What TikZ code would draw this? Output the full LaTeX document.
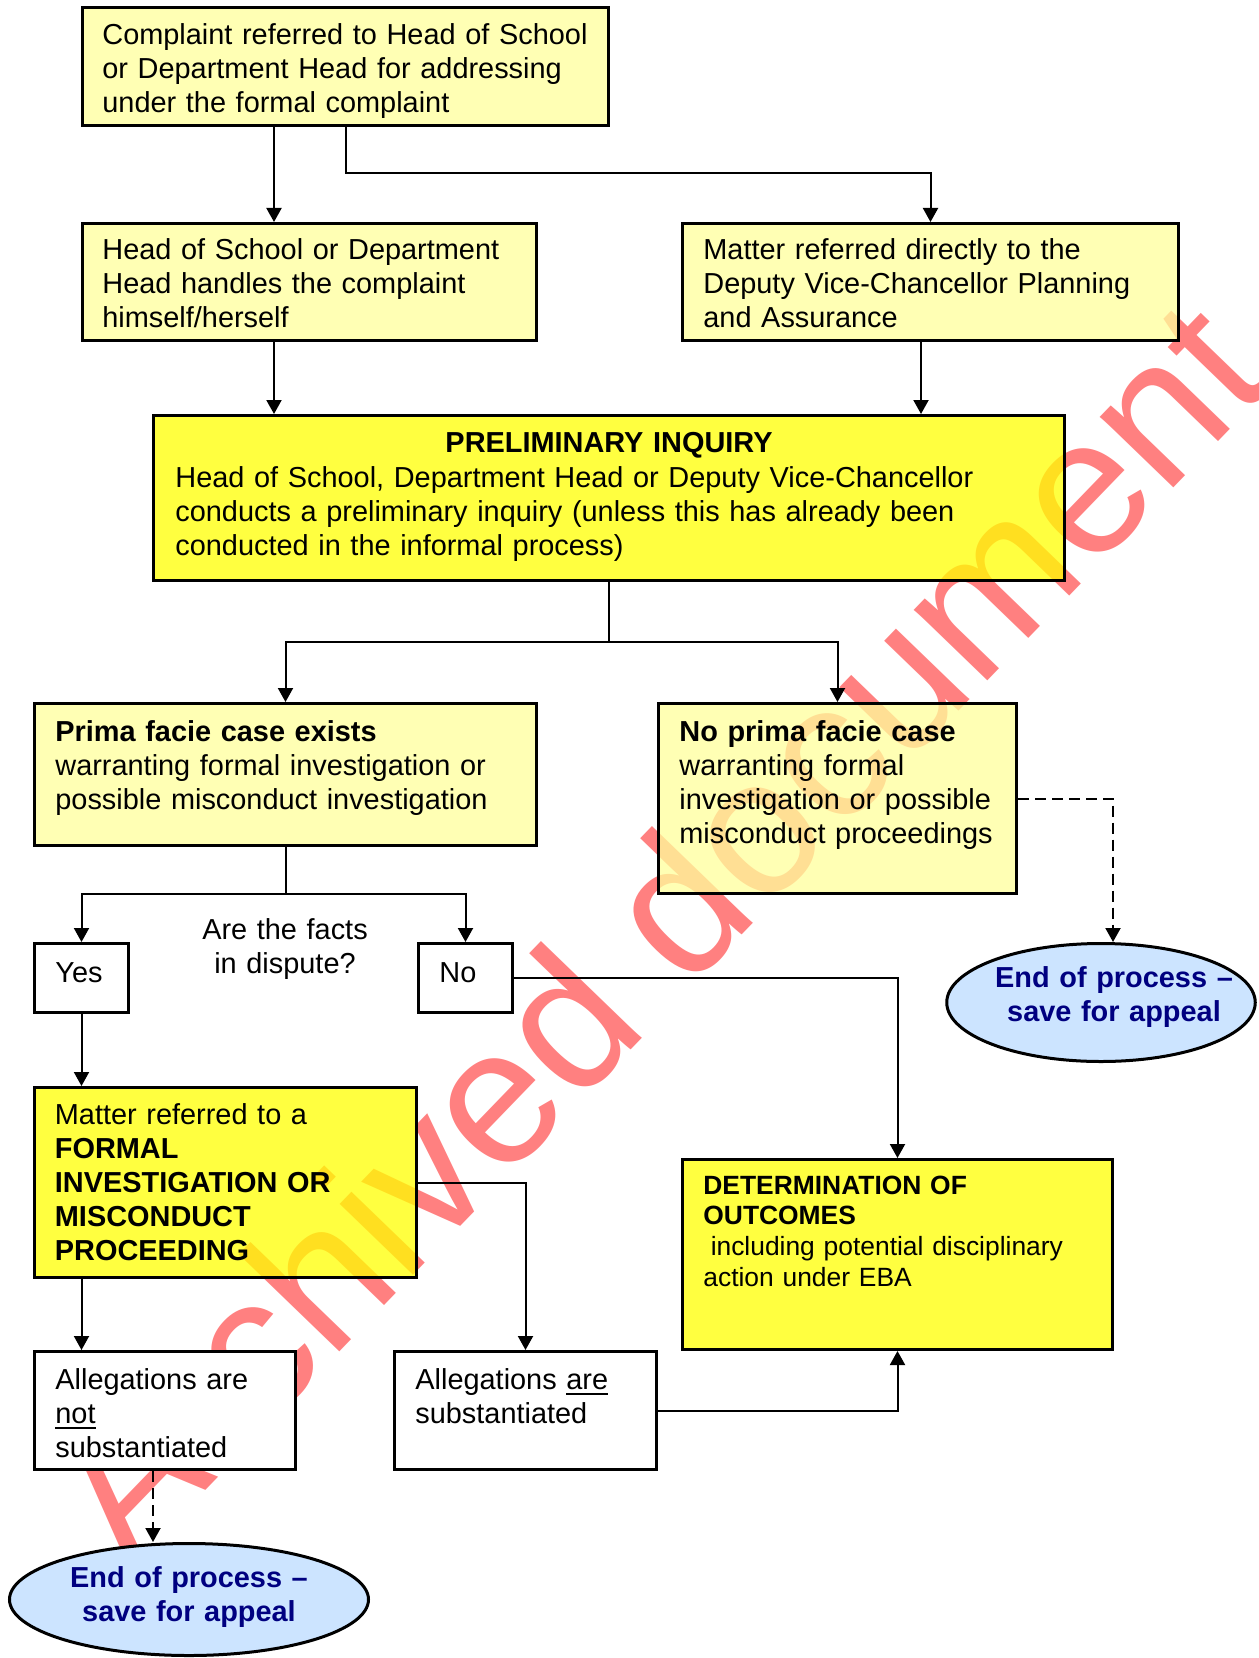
\documentclass[tikz,border=0pt]{standalone}
\usepackage{fontspec}
\setmainfont{Liberation Sans}
\usetikzlibrary{arrows.meta,shapes.geometric}
\definecolor{paleY}{RGB}{255,255,155}
\definecolor{brightY}{RGB}{255,255,0}
\definecolor{wmred}{RGB}{255,128,128}
\definecolor{ellblue}{RGB}{204,228,255}
\definecolor{navyT}{RGB}{0,0,128}
\newcommand\myul[1]{\leavevmode\setbox0\hbox{#1}\rlap{\rule[-2.85pt]{\wd0}{1pt}}\box0}
\begin{document}
\begin{tikzpicture}[x=0.5pt,y=-0.5pt,
  every node/.style={font=\fontsize{14.45pt}{17pt}\selectfont},
  ybox/.style={draw=black, line width=1.5pt, fill=brightY, fill opacity=0.75, draw opacity=1, anchor=north west, inner sep=0pt},
  pbox/.style={ybox, fill=paleY},
  wbox/.style={draw=black, line width=1.5pt, fill=white, anchor=north west, inner sep=0pt},
  endell/.style={ellipse, draw=black, line width=1.5pt, fill=ellblue, inner sep=0pt},
  txt/.style={inner sep=0pt, anchor=base west, align=left, text width=#1},
  ctxt/.style={inner sep=0pt, anchor=base, align=center, text width=#1},
  endtxt/.style={ctxt=160pt, font=\fontsize{14.45pt}{17pt}\selectfont\bfseries, text=navyT},
  arr/.style={line width=1pt, -{Triangle[length=7pt,width=7.5pt]}},
  darr/.style={arr, dash pattern=on 5.5pt off 3pt}]
\useasboundingbox (0,0) rectangle (1258,1658);
\fill[white] (0,0) rectangle (1258,1658);

% watermark
\node[rotate=46, anchor=base west, inner sep=0pt, text=wmred,
      font=\fontsize{96.5pt}{100pt}\selectfont] (wm) at (129,1570) {Archived document};

% boxes
\node[pbox, minimum width=263pt, minimum height=59pt] (b1) at (81,6) {};
\node[pbox, minimum width=227pt, minimum height=58.5pt] (b2) at (81,222) {};
\node[pbox, minimum width=248pt, minimum height=58.5pt] (b3) at (681,222) {};
\node[ybox, minimum width=455.5pt, minimum height=82.5pt] (pi) at (152,414) {};
\node[pbox, minimum width=251pt, minimum height=71pt] (pf) at (33,702) {};
\node[pbox, minimum width=179pt, minimum height=95pt] (npf) at (657,702) {};
\node[wbox, minimum width=47pt, minimum height=34.5pt] (nYes) at (33,942) {};
\node[wbox, minimum width=47pt, minimum height=34.5pt] (nNo) at (417,942) {};
\node[ybox, minimum width=191pt, minimum height=95pt] (formal) at (33,1086) {};
\node[wbox, minimum width=130.5pt, minimum height=59pt] (notsub) at (33,1350) {};
\node[wbox, minimum width=131pt, minimum height=59pt] (sub) at (393,1350) {};
\node[ybox, minimum width=215pt, minimum height=95pt] (det) at (681,1158) {};
\node[endell, minimum width=154.25pt, minimum height=59pt] (ell1) at (1101,1002.5) {};
\node[endell, minimum width=179.5pt, minimum height=56pt] (ell2) at (189,1599.5) {};

% helper coordinates
\coordinate (c1) at (274,0);
\coordinate (c2) at (921,0);
\coordinate (jA) at (609,642);
\coordinate (c6) at (1113,0);
\coordinate (c7) at (153,0);

% connectors
\draw[arr] (b1.south -| c1) -- (b2.north -| c1);
\draw[arr] (b1.south) -- ++(0,46) -| (b3.north);
\draw[arr] (b2.south -| c1) -- (pi.north -| c1);
\draw[arr] (b3.south -| c2) -- (pi.north -| c2);
\draw[arr] (pi.south) -- (jA) -| (pf.north);
\draw[arr] (pi.south) -- (jA) -| (npf.north);
\draw[arr] (pf.south) -- ++(0,47) -| (nYes.north);
\draw[arr] (pf.south) -- ++(0,47) -| (nNo.north);
\draw[arr] (nYes.south) -- (formal.north -| nYes.south);
\draw[arr] (nNo.east) -| (det.north);
\draw[arr] (formal.south -| nYes.south) -- (notsub.north -| nYes.south);
\draw[arr] (formal.east) -| (sub.north);
\draw[arr] (sub.east) -| (det.south);
\draw[darr] (npf.east) -| (ell1.north -| c6);
\draw[darr] (notsub.south -| c7) -- (ell2.north -| c7);

% texts
\node[txt=300pt] (t1) at (102,45) {Complaint referred to Head of School\\or Department Head for addressing\\under the formal complaint};
\node[txt=250pt] (t2) at (102,260) {Head of School or Department\\Head handles the complaint\\himself/herself};
\node[txt=260pt] (t3) at (703,260) {Matter referred directly to the\\Deputy Vice-Chancellor Planning\\and Assurance};
\node[ctxt=400pt, font=\fontsize{14.45pt}{17pt}\selectfont\bfseries] (piT) at (609,452) {PRELIMINARY INQUIRY};
\node[txt=440pt] (piB) at (175,487) {Head of School, Department Head or Deputy Vice-Chancellor\\conducts a preliminary inquiry (unless this has already been\\conducted in the informal process)};
\node[txt=250pt] (pfT) at (55,741) {\textbf{Prima facie case exists}\\warranting formal investigation or\\possible misconduct investigation};
\node[txt=200pt] (npfT) at (679,741) {\textbf{No prima facie case}\\warranting formal\\investigation or possible\\misconduct proceedings};
\node[txt=40pt] (yesT) at (55,982) {Yes};
\node[txt=40pt] (noT) at (439,982) {No};
\node[ctxt=120pt] (qT) at (285,939) {Are the facts\\in dispute?};
\node[txt=200pt] (formalT) at (54.5,1124) {Matter referred to a\\\textbf{FORMAL}\\\textbf{INVESTIGATION OR}\\\textbf{MISCONDUCT}\\\textbf{PROCEEDING}};
\node[txt=140pt] (notsubT) at (55,1389) {Allegations are\\\myul{not}\\substantiated};
\node[txt=140pt] (subT) at (415,1389) {Allegations \myul{are}\\substantiated};
\node[txt=210pt, font=\fontsize{13.2pt}{15.4pt}\selectfont] (detT) at (703,1194) {\textbf{DETERMINATION OF}\\\textbf{OUTCOMES}\\\hspace*{0.278em}including potential disciplinary\\action under EBA};
\node[endtxt] (e1T) at (1114,987) {End of process --\\save for appeal};
\node[endtxt] (e2T) at (189,1587) {End of process --\\save for appeal};
\end{tikzpicture}
\end{document}
